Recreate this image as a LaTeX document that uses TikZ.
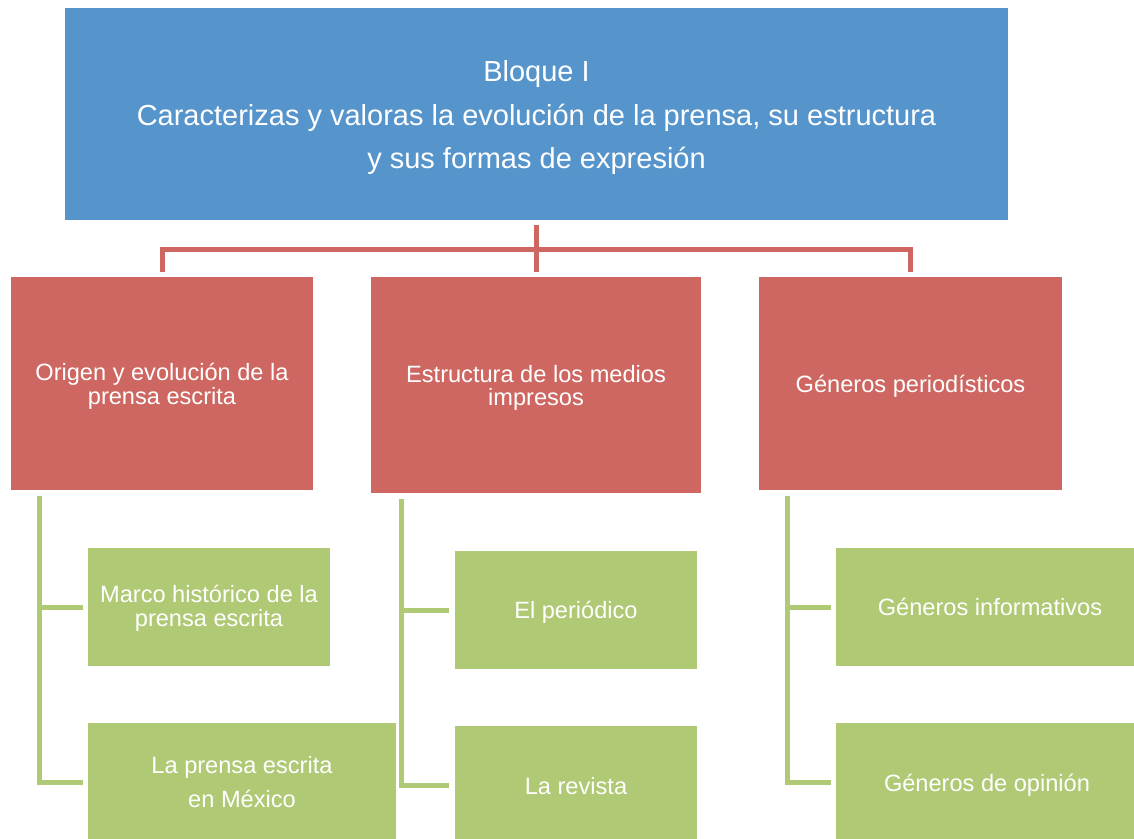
\documentclass[tikz,border=0pt]{standalone}
\usepackage{fontspec}
\setmainfont{Liberation Sans}
\definecolor{topblue}{RGB}{86,148,204}
\definecolor{boxred}{RGB}{206,103,97}
\definecolor{boxgreen}{RGB}{176,201,116}
\tikzset{
  topbox/.style={fill=topblue, inner sep=0pt},
  redbox/.style={fill=boxred, inner sep=0pt},
  greenbox/.style={fill=boxgreen, inner sep=0pt},
  toptext/.style={text=white, align=center, inner sep=0pt,
    font=\fontsize{29}{43.5}\selectfont},
  redtext/.style={text=white, align=center, inner sep=0pt,
    font=\fontsize{23.6}{23.5}\selectfont},
  greentext/.style={text=white, align=center, inner sep=0pt,
    font=\fontsize{23.6}{24}\selectfont},
  redline/.style={draw=boxred, line width=5pt, line join=miter},
  greenline/.style={draw=boxgreen, line width=5pt, line join=miter},
}
\begin{document}
\begin{tikzpicture}[x=1pt, y=-1pt]
\useasboundingbox (0,0) rectangle (1134,838);
\clip (0,0) rectangle (1134,838);
% top
\node[topbox, minimum width=943pt, minimum height=212pt,
  label={[toptext, yshift=-3.5pt]center:Bloque I\\Caracterizas y valoras la evolución de la prensa, su estructura\\y sus formas de expresión}]
  (top) at (536.5,114) {};
% red boxes
\node[redbox, minimum width=302pt, minimum height=213pt,
  label={[redtext, yshift=-3pt]center:Origen y evolución de la\\prensa escrita}]
  (red1) at (162,383.5) {};
\node[redbox, minimum width=330pt, minimum height=216pt,
  label={[redtext, yshift=-3pt]center:Estructura de los medios\\impresos}]
  (red2) at (536,385) {};
\node[redbox, minimum width=303pt, minimum height=213pt,
  label={[redtext, yshift=-3pt]center:Géneros periodísticos}]
  (red3) at (910.5,383.5) {};
% green boxes
\node[greenbox, minimum width=242pt, minimum height=118pt,
  label={[greentext, yshift=-1pt]center:Marco histórico de la\\prensa escrita}]
  (g1) at (209,607) {};
\node[greenbox, minimum width=308pt, minimum height=118pt,
  label={[greentext, font=\fontsize{23.6}{34}\selectfont]center:La prensa escrita\\en México}]
  (g2) at (242,782) {};
\node[greenbox, minimum width=242pt, minimum height=118pt,
  label={[greentext, yshift=-2pt]center:El periódico}]
  (g3) at (576,610) {};
\node[greenbox, minimum width=242pt, minimum height=118pt,
  label={[greentext, yshift=-1pt]center:La revista}]
  (g4) at (576,785) {};
\node[greenbox, minimum width=308pt, minimum height=118pt,
  label={[greentext]center:Géneros informativos}]
  (g5) at (990,607) {};
\node[greenbox, minimum width=308pt, minimum height=118pt,
  label={[greentext, yshift=-3pt, xshift=-3pt]center:Géneros de opinión}]
  (g6) at (990,782) {};
% red connectors
\coordinate (bus) at (0,249);
\draw[redline, shorten <=5pt, shorten >=5pt] (top.south) -- (top.south |- red2.north);
\draw[redline, shorten <=5pt, shorten >=5pt]
  (red1.north) -- (red1.north |- bus) -- (red3.north |- bus) -- (red3.north);
% green connectors
\coordinate (s1) at (39.5,490);
\coordinate (s2) at (401.5,493);
\coordinate (s3) at (787,490);
\draw[greenline, shorten <=6pt, shorten >=5pt] (s1) |- (g1.west);
\draw[greenline, shorten <=6pt, shorten >=5pt] (s1) |- (g2.west);
\draw[greenline, shorten <=6pt, shorten >=6pt] (s2) |- (g3.west);
\draw[greenline, shorten <=6pt, shorten >=6pt] (s2) |- (g4.west);
\draw[greenline, shorten <=6pt, shorten >=5pt] (s3) |- (g5.west);
\draw[greenline, shorten <=6pt, shorten >=5pt] (s3) |- (g6.west);
\end{tikzpicture}
\end{document}
